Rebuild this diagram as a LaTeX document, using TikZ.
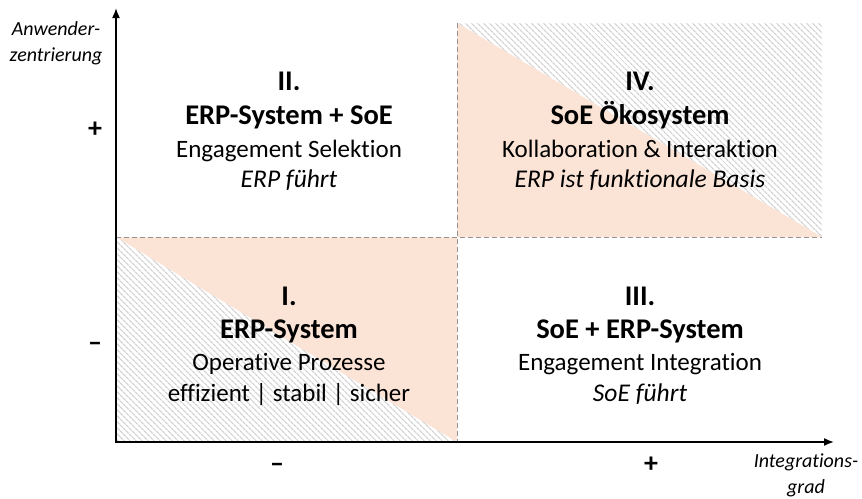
\documentclass[tikz,border=0pt]{standalone}
\usepackage{fontspec}
\setmainfont{Carlito}[Ligatures={TeX,NoCommon}]
\usetikzlibrary{arrows.meta}
\usetikzlibrary{patterns.meta}
\definecolor{peach}{RGB}{251,227,214}
\definecolor{hatch}{RGB}{210,210,210}
\tikzset{>=Latex}

\begin{document}
\begin{tikzpicture}[x=1pt, y=-1pt,
axis/.style={line width=1.6pt, ->, >={Latex[length=10pt,width=8pt]}},
split/.style={draw=gray!85, dash pattern=on 5pt off 3pt, line width=0.8pt},
hatched/.style={pattern={Lines[angle=-45,distance=4pt,line width=1.3pt]}, pattern color=hatch},
title/.style={anchor=base, font=\fontsize{28.5}{30}\selectfont\bfseries},
body/.style={anchor=base, font=\fontsize{25}{28}\selectfont},
note/.style={anchor=base, font=\fontsize{25.5}{28}\selectfont\itshape},
axlabel/.style={align=center, font=\fontsize{20}{26}\selectfont\itshape},
tick/.style={font=\fontsize{28}{28}\selectfont\bfseries}]
\useasboundingbox (0,0) rectangle (862,498);
%% corners
\coordinate (ytip) at (116,8);
\coordinate (xtip) at (834,442);
%% shaded triangles
\fill [hatched] (116,237) -- (116,442) -- (457,442) -- cycle;
\fill [peach] (116,237) -- (457,237) -- (457,442) -- cycle;
\fill [hatched] (457,23) -- (822,23) -- (822,237) -- cycle;
\fill [peach] (457,23) -- (457,237) -- (822,237) -- cycle;
%% quadrant borders
\draw [split] (457,23) -- (457,442);
\draw [split] (116,237) -- (822,237);
%% axes
\draw [axis] (116,443) -- (ytip);
\draw [axis] (115,442) -- (xtip);
%% quadrant II
\node [title] (q2num) at (289,90) {II.};
\node [title] (q2title) at (289,124) {ERP-System + SoE};
\node [body] (q2body) at (289,157) {Engagement Selektion};
\node [note] (q2note) at (289,187) {ERP führt};
%% quadrant IV
\node [title] (q4num) at (640,90) {IV.};
\node [title] (q4title) at (640,124) {SoE Ökosystem};
\node [body] (q4body) at (640,157) {Kollaboration \& Interaktion};
\node [note] (q4note) at (640,187) {ERP ist funktionale Basis};
%% quadrant I
\node [title] (q1num) at (289,305) {I.};
\node [title] (q1title) at (289,338) {ERP-System};
\node [body] (q1body) at (289,370) {Operative Prozesse};
\node [body] (q1note) at (289,401) {effizient | stabil | sicher};
%% quadrant III
\node [title] (q3num) at (640,305) {III.};
\node [title] (q3title) at (640,338) {SoE + ERP-System};
\node [body] (q3body) at (640,370) {Engagement Integration};
\node [note] (q3note) at (640,401) {SoE führt};
%% axis labels
\node [axlabel] (ylab) at (56,43) {Anwender-\\zentrierung};
\node [axlabel] (xlab) at (806,475) {Integrations-\\grad};
\node [tick] (yplus) at (95,130) {+};
\node [tick] (yminus) at (95,347) {–};
\node [tick] (xminus) at (277,468) {–};
\node [tick] (xplus) at (651,465) {+};
\end{tikzpicture}
\end{document}
